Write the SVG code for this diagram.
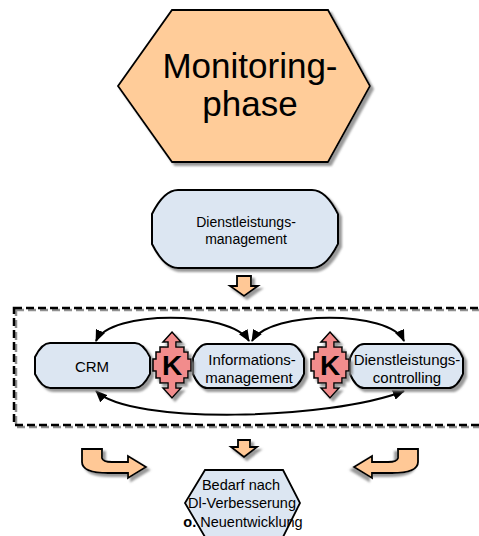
<svg xmlns="http://www.w3.org/2000/svg" width="479" height="536" viewBox="0 0 479 536">
<defs>
<style>
text{font-family:"Liberation Sans",Arial,sans-serif;fill:#000;text-anchor:middle}
.node{fill:#DCE6F2;stroke:#000;stroke-width:2;filter:url(#sh)}
.peach{fill:#FFC896;stroke:#000;stroke-width:1.8;filter:url(#sh)}
.k{fill:#F28C8C;stroke:#000;stroke-width:1.5;filter:url(#sh)}
.con{fill:none;stroke:#000;stroke-width:2;marker-start:url(#ah);marker-end:url(#ah)}
.kt{font-weight:bold;font-size:28px}
.t15{font-size:15px}
.t14{font-size:14px}
</style>
<filter id="sh" x="-20%" y="-20%" width="150%" height="150%">
<feGaussianBlur in="SourceAlpha" stdDeviation="1"/>
<feOffset dx="3" dy="3" result="o"/>
<feFlood flood-color="#808080" flood-opacity="0.8"/>
<feComposite in2="o" operator="in"/>
<feMerge><feMergeNode/><feMergeNode in="SourceGraphic"/></feMerge>
</filter>
<marker id="ah" viewBox="0 0 12 10" refX="11" refY="5" markerWidth="12" markerHeight="10" markerUnits="userSpaceOnUse" orient="auto-start-reverse">
<path d="M0,0 L12,5 L0,10 Z" fill="#000"/>
</marker>
<polygon id="kshape" points="0,-33 9,-23 4,-23 4,-18 12,-18 12,-13 16,-13 16,-6 19,-6 19,6 16,6 16,13 12,13 12,18 4,18 4,23 9,23 0,33 -9,23 -4,23 -4,18 -12,18 -12,13 -16,13 -16,6 -19,6 -19,-6 -16,-6 -16,-13 -12,-13 -12,-18 -4,-18 -4,-23 -9,-23"/>
</defs>

<g id="monitoringphase">
<polygon points="172,10 328,10 370,86 328,162 172,162 118,86" fill="#FFCC99" stroke="#000" stroke-width="1.8" filter="url(#sh)"/>
<text x="250" y="78" style="font-size:35px">Monitoring-</text>
<text x="250" y="116" style="font-size:35px">phase</text>
</g>

<g id="dienstleistungsmanagement">
<path class="node" d="M178,190 L312,190 Q326,190 338,214 L338,244 Q326,268 312,268 L178,268 Q164,268 152,244 L152,214 Q164,190 178,190 Z"/>
<text x="246" y="227" class="t14">Dienstleistungs-</text>
<text x="246" y="244" class="t14">management</text>
</g>

<g id="arrow-top">
<polygon class="peach" points="237,276 251,276 251,286 258,286 244,296 230,286 237,286"/>
</g>

<g id="frame">
<rect x="16" y="310" width="480" height="117" fill="none" stroke="#909090" stroke-width="2.5" stroke-dasharray="8 4"/>
<rect x="14" y="308" width="480" height="117" fill="none" stroke="#000" stroke-width="2.5" stroke-dasharray="8 4"/>
</g>

<g id="connectors">
<path class="con" d="M249,341 C230,310 110,310 96,341"/>
<path class="con" d="M252,341 C270,310 390,310 404,341"/>
<path class="con" d="M96,391 C130,425 330,420 404,391"/>
</g>

<g id="crm">
<path class="node" d="M50,343 L135,343 Q143,343 150,357 L150,374 Q143,388 135,388 L50,388 Q42,388 35,374 L35,357 Q42,343 50,343 Z"/>
<text x="92" y="372" class="t15">CRM</text>
</g>

<g id="informationsmanagement">
<path class="node" d="M207,344 L290,344 Q298,344 304,358 L304,374 Q298,388 290,388 L207,388 Q199,388 193,374 L193,358 Q199,344 207,344 Z"/>
<text x="252" y="365" class="t15">Informations-</text>
<text x="249" y="383" class="t15">management</text>
</g>

<g id="dienstleistungscontrolling">
<path class="node" d="M364,344 L449,344 Q457,344 463,358 L463,374 Q457,388 449,388 L364,388 Q356,388 350,374 L350,358 Q356,344 364,344 Z"/>
<text x="407" y="365" class="t15">Dienstleistungs-</text>
<text x="407" y="383" class="t15">controlling</text>
</g>

<g id="k1">
<use href="#kshape" class="k" transform="translate(172,365)"/>
<text x="172" y="375" class="kt">K</text>
</g>

<g id="k2">
<use href="#kshape" class="k" transform="translate(330,365)"/>
<text x="330" y="375" class="kt">K</text>
</g>

<g id="arrow-left">
<path class="peach" d="M82,449 L102,449 L102,458 Q103,462 112,462 L128,462 L128,456 L146,467 L128,478 L128,473 L108,473 Q82,473 82,462 Z"/>
</g>

<g id="arrow-right">
<path class="peach" transform="translate(500,0) scale(-1,1)" d="M82,449 L102,449 L102,458 Q103,462 112,462 L128,462 L128,456 L146,467 L128,478 L128,473 L108,473 Q82,473 82,462 Z"/>
</g>

<g id="arrow-bottom">
<polygon class="peach" points="238,440 250,440 250,447 257,447 244,457 231,447 238,447"/>
</g>

<g id="bedarf">
<polygon points="205,470 283,470 300,503 283,537 205,537 185,503" fill="#DCE6F2" stroke="#000" stroke-width="1.8"/>
<text x="241" y="490" style="font-size:14.5px">Bedarf nach</text>
<text x="242" y="508" style="font-size:14.5px">Dl-Verbesserung</text>
<text x="243" y="527" style="font-size:14.5px"><tspan font-weight="bold">o.</tspan> Neuentwicklung</text>
</g>
</svg>
